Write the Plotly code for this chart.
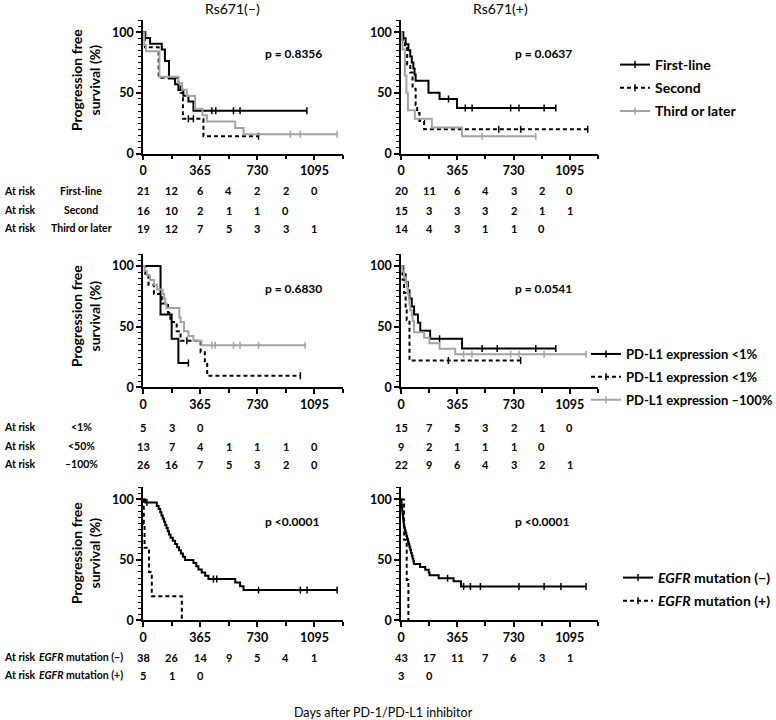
import plotly.graph_objects as go

W, H = 776, 720
FONT = "Lato"
BLACK = "#000000"
GRAY = "#a3a3a3"

# ---------------- data ----------------
risk_days = [0, 182.5, 365, 547.5, 730, 912.5, 1095]
x_max = 1277.5
col_titles = ["Rs671(\u2212)", "Rs671(+)"]
p_values = ["p = 0.8356", "p = 0.0637", "p = 0.6830", "p = 0.0541", "p <0.0001", "p <0.0001"]

# Row A : line of therapy
legend_a = ["First-line", "Second", "Third or later"]
risk_label_a = ["First-line", "Second", "Third or later"]
# Rs671(-)
a1_first_t = [0, 15, 45, 120, 140, 166, 205, 226, 258, 290, 322]
a1_first_s = [100, 95.2, 90.5, 85.7, 76.2, 61.9, 57.1, 52.4, 47.6, 42.9, 35.2]
a1_first_c = [440, 465, 578, 620, 1047]
a1_second_t = [0, 13, 100, 226, 240, 255, 386]
a1_second_s = [100, 87.5, 62.5, 56.3, 50, 28.6, 14.3]
a1_second_c = [290, 322, 738]
a1_third_t = [0, 8, 19, 105, 226, 250, 280, 333, 380, 408, 589, 642]
a1_third_s = [100, 89.5, 84.2, 63.2, 57.9, 52.6, 47.4, 36.8, 31.6, 26.3, 21.1, 15.8]
a1_third_c = [941, 1005, 1240]
a1_risk = [[21, 12, 6, 4, 2, 2, 0], [16, 10, 2, 1, 1, 0], [19, 12, 7, 5, 3, 3, 1]]
# Rs671(+)
a2_first_t = [0, 15, 30, 48, 60, 70, 80, 88, 95, 178, 250, 363]
a2_first_s = [100, 95, 90, 85, 80, 75, 70, 65, 60, 50, 45, 37.5]
a2_first_c = [308, 417, 461, 711, 765, 928, 1004]
a2_second_t = [0, 10, 25, 40, 60, 75, 95, 105, 120, 150]
a2_second_s = [100, 93.3, 86.7, 73.3, 66.7, 53.3, 40, 33.3, 26.7, 20]
a2_second_c = [634, 776, 1211]
a2_third_t = [0, 5, 10, 25, 35, 45, 90, 200, 396]
a2_third_s = [100, 92.9, 85.7, 64.3, 50, 35.7, 28.6, 21.4, 14.3]
a2_third_c = [526, 874]
a2_risk = [[20, 11, 6, 4, 3, 2, 0], [15, 3, 3, 3, 2, 1, 1], [14, 4, 3, 1, 1, 0]]

# Row B : PD-L1 expression
legend_b = ["PD-L1 expression <1%", "PD-L1 expression <1%", "PD-L1 expression \u2013100%"]
risk_label_b = ["<1%", "<50%", "\u2013100%"]
# Rs671(-)
b1_low_t = [0, 112, 183, 226]
b1_low_s = [100, 60, 40, 20]
b1_low_c = [290]
b1_mid_t = [0, 15, 35, 70, 120, 160, 175, 215, 240, 368, 395, 410]
b1_mid_s = [100, 92.3, 84.6, 76.9, 69.2, 61.5, 53.8, 46.2, 38.5, 28.9, 19.3, 9.6]
b1_mid_c = [280, 1005]
b1_high_t = [0, 10, 25, 45, 70, 90, 125, 135, 142, 150, 232, 240, 262, 290, 322, 373]
b1_high_s = [100, 96.2, 92.3, 88.5, 84.6, 80.8, 76.9, 73.1, 69.2, 65.4, 57.7, 53.8, 46.2, 42.3, 38.5, 34.6]
b1_high_c = [440, 461, 578, 620, 738, 1036]
b1_risk = [[5, 3, 0], [13, 7, 4, 1, 1, 1, 0], [26, 16, 7, 5, 3, 2, 0]]
# Rs671(+)
b2_low_t = [0, 15, 30, 45, 55, 70, 85, 110, 125, 189, 396]
b2_low_s = [100, 93.3, 86.7, 80, 73.3, 66.7, 60, 53.3, 46.7, 40, 32]
b2_low_c = [250, 526, 624, 874, 1004]
b2_mid_t = [0, 10, 20, 30, 37, 55]
b2_mid_s = [100, 88.9, 77.8, 66.7, 55.6, 22.2]
b2_mid_c = [307, 776]
b2_high_t = [0, 10, 20, 30, 40, 45, 50, 55, 60, 70, 75, 85, 150, 184, 250, 352]
b2_high_s = [100, 95.5, 90.9, 86.4, 81.8, 77.3, 72.7, 68.2, 63.6, 59.1, 54.5, 45.5, 40.9, 36.4, 31.8, 27.3]
b2_high_c = [406, 460, 711, 765, 928, 1200]
b2_risk = [[15, 7, 5, 3, 2, 1, 0], [9, 2, 1, 1, 1, 0], [22, 9, 6, 4, 3, 2, 1]]

# Row C : EGFR mutation
legend_c = ["<i>EGFR</i> mutation (\u2212)", "<i>EGFR</i> mutation (+)"]
risk_label_c = ["<i>EGFR</i> mutation (\u2212)", "<i>EGFR</i> mutation (+)"]
# Rs671(-)
c1_neg_t = [0, 15, 88, 100, 110, 118, 126, 134, 142, 150, 158, 166, 176, 190, 205, 218, 230, 242, 255, 268,
            322, 340, 354, 375, 397, 418, 589, 620, 642]
c1_neg_s = [100, 97.4, 94.7, 92.1, 89.5, 86.8, 84.2, 81.6, 78.9, 76.3, 73.7, 71.1, 68.4, 65.8, 63.2, 60.5,
            57.9, 55.3, 52.6, 50.0, 47.4, 44.7, 42.1, 39.5, 36.8, 34.2, 31.2, 28.1, 25.0]
c1_neg_c = [25, 450, 471, 738, 1005, 1048, 1240]
c1_pos_t = [0, 5, 10, 38, 56, 248]
c1_pos_s = [100, 80, 60, 40, 20, 0]
c1_pos_c = []
c1_risk = [[38, 26, 14, 9, 5, 4, 1], [5, 1, 0]]
# Rs671(+)
c2_neg_t = [0, 2, 4, 6, 8, 10, 12, 14, 16, 18, 21, 25, 30, 35, 40, 45, 50, 55, 60, 65,
            70, 75, 80, 84, 124, 157, 180, 185, 244, 341, 389]
c2_neg_s = [100, 97.7, 95.3, 93.0, 90.7, 88.4, 86.0, 83.7, 81.4, 79.1, 76.7, 74.4, 72.1, 69.8, 67.4, 65.1,
            62.8, 60.5, 58.1, 55.8, 53.5, 51.2, 48.8, 46.5, 44.2, 41.9, 39.5, 37.2, 34.9, 32.3, 28.0]
c2_neg_c = [302, 406, 450, 515, 765, 928, 1037, 1200]
c2_pos_t = [0, 20, 37, 48]
c2_pos_s = [100, 66.7, 33.3, 0]
c2_pos_c = []
c2_risk = [[43, 17, 11, 7, 6, 3, 1], [3, 0]]

# ---------------- layout geometry (pixels) ----------------
LEFT_X = (143, 343)
RIGHT_X = (401, 598)
ROW_Y = [(20, 153.5), (254, 387.3), (487.4, 620.3)]       # (top, bottom) of each plot row
RISK_Y = [[191, 210, 228], [427, 446, 464], [657, 675]]
YTITLE_Y = [80, 316, 553]
LEGEND_X = [615, 586, 618]
LEGEND_TOP = [49, 339, 562]
LEGEND_SIZE = [14, 13, 14]

STYLES = [dict(color=BLACK, dash="solid"), dict(color=BLACK, dash="4px,3px"), dict(color=GRAY, dash="solid")]


def fx(p):
    return p / W


def fy(p):
    return 1 - p / H


def step_at(ts, ss, t):
    v = ss[0]
    for ti, si in zip(ts, ss):
        if ti <= t:
            v = si
    return v


panels = [
    dict(curves=[(a1_first_t, a1_first_s, a1_first_c), (a1_second_t, a1_second_s, a1_second_c),
                 (a1_third_t, a1_third_s, a1_third_c)], risk=a1_risk),
    dict(curves=[(a2_first_t, a2_first_s, a2_first_c), (a2_second_t, a2_second_s, a2_second_c),
                 (a2_third_t, a2_third_s, a2_third_c)], risk=a2_risk),
    dict(curves=[(b1_low_t, b1_low_s, b1_low_c), (b1_mid_t, b1_mid_s, b1_mid_c),
                 (b1_high_t, b1_high_s, b1_high_c)], risk=b1_risk),
    dict(curves=[(b2_low_t, b2_low_s, b2_low_c), (b2_mid_t, b2_mid_s, b2_mid_c),
                 (b2_high_t, b2_high_s, b2_high_c)], risk=b2_risk),
    dict(curves=[(c1_neg_t, c1_neg_s, c1_neg_c), (c1_pos_t, c1_pos_s, c1_pos_c)], risk=c1_risk),
    dict(curves=[(c2_neg_t, c2_neg_s, c2_neg_c), (c2_pos_t, c2_pos_s, c2_pos_c)], risk=c2_risk),
]
legend_names = [legend_a, legend_b, legend_c]
risk_labels = [risk_label_a, risk_label_b, risk_label_c]

fig = go.Figure()
annotations = []
layout_axes = {}
bold = "bold"
risk_font = dict(family=FONT, size=11, color=BLACK, weight=bold)
label_font = dict(family=FONT, size=10.5, color=BLACK, weight=bold)

for k, panel in enumerate(panels):
    row, col = k // 2, k % 2
    n = k + 1
    xa = "x" if n == 1 else f"x{n}"
    ya = "y" if n == 1 else f"y{n}"
    xdom = LEFT_X if col == 0 else RIGHT_X
    top, bot = ROW_Y[row]
    axis_font = dict(family=FONT, size=12.5, color=BLACK, weight=bold)
    layout_axes["xaxis" if n == 1 else f"xaxis{n}"] = dict(
        domain=[fx(xdom[0]), fx(xdom[1])], range=[0, x_max], anchor=ya,
        tickmode="linear", tick0=0, dtick=365, ticks="outside", ticklen=5, tickwidth=1.5,
        tickcolor=BLACK, showline=True, linecolor=BLACK, linewidth=1.5, showgrid=False,
        zeroline=False, tickfont=axis_font, fixedrange=True,
        minor=dict(tick0=0, dtick=182.5, ticks="outside", ticklen=4, tickwidth=1.5,
                   tickcolor=BLACK, showgrid=False))
    layout_axes["yaxis" if n == 1 else f"yaxis{n}"] = dict(
        domain=[fy(bot), fy(top)], range=[0, 110], anchor=xa,
        tickmode="linear", tick0=0, dtick=50, ticks="outside", ticklen=5, tickwidth=1.5,
        tickcolor=BLACK, showline=True, linecolor=BLACK, linewidth=1.5, showgrid=False,
        zeroline=False, tickfont=axis_font, fixedrange=True,
        minor=dict(tick0=0, dtick=5, ticks="outside", ticklen=3, tickwidth=1.2,
                   tickcolor=BLACK, showgrid=False))

    for i, (ts, ss, cs) in enumerate(panel["curves"]):
        st = STYLES[i]
        end = max([ts[-1]] + list(cs))
        fig.add_trace(go.Scatter(
            x=list(ts) + [end], y=list(ss) + [ss[-1]], mode="lines", line_shape="hv",
            line=dict(color=st["color"], width=2, dash=st["dash"]),
            xaxis=xa, yaxis=ya, showlegend=False, hoverinfo="skip"))
        if cs:
            fig.add_trace(go.Scatter(
                x=cs, y=[step_at(ts, ss, c) for c in cs], mode="markers",
                marker=dict(symbol="line-ns", size=5, line=dict(width=1.5, color=st["color"])),
                xaxis=xa, yaxis=ya, showlegend=False, hoverinfo="skip"))
        if col == 1:
            lg = "legend" if row == 0 else f"legend{row + 1}"
            fig.add_trace(go.Scatter(
                x=[None], y=[None], mode="lines+markers", name=legend_names[row][i],
                line=dict(color=st["color"], width=2, dash=st["dash"]),
                marker=dict(symbol="line-ns", size=5, line=dict(width=1.5, color=st["color"])),
                xaxis=xa, yaxis=ya, legend=lg, legendgroup=f"g{row}{i}", showlegend=True))

    # p value
    annotations.append(dict(text=p_values[k], x=fx(263 if col == 0 else 513), y=fy(top + 34),
                            xref="paper", yref="paper", xanchor="left", yanchor="middle",
                            showarrow=False, font=dict(family=FONT, size=12, color=BLACK, weight=bold)))
    # numbers at risk
    for r, counts in enumerate(panel["risk"]):
        for d, c in zip(risk_days, counts):
            annotations.append(dict(text=str(c), x=d, xref=xa, y=fy(RISK_Y[row][r]), yref="paper",
                                    xanchor="center", yanchor="middle", showarrow=False, font=risk_font))
        if col == 0:
            annotations.append(dict(text="At risk", x=fx(2), y=fy(RISK_Y[row][r]), xref="paper",
                                    yref="paper", xanchor="left", yanchor="middle", showarrow=False,
                                    font=label_font))
            annotations.append(dict(text=risk_labels[row][r], x=fx(81), y=fy(RISK_Y[row][r]),
                                    xref="paper", yref="paper", xanchor="center", yanchor="middle",
                                    showarrow=False, font=label_font))
    if col == 0:
        annotations.append(dict(text="Progression free<br>survival (%)", x=fx(85), y=fy(YTITLE_Y[row]),
                                xref="paper", yref="paper", xanchor="center", yanchor="middle",
                                textangle=-90, showarrow=False,
                                font=dict(family=FONT, size=14, color=BLACK, weight=bold)))

for j, t in enumerate(col_titles):
    annotations.append(dict(text=t, x=fx(232 if j == 0 else 500), y=fy(9), xref="paper", yref="paper",
                            xanchor="center", yanchor="middle", showarrow=False,
                            font=dict(family=FONT, size=14, color=BLACK)))
annotations.append(dict(text="Days after PD-1/PD-L1 inhibitor", x=fx(383), y=fy(712), xref="paper",
                        yref="paper", xanchor="center", yanchor="middle", showarrow=False,
                        font=dict(family=FONT, size=12.5, color=BLACK)))


def legend_style(i):
    return dict(x=fx(LEGEND_X[i]), y=fy(LEGEND_TOP[i]), xanchor="left", yanchor="top",
                bgcolor="rgba(0,0,0,0)", borderwidth=0,
                font=dict(family=FONT, size=LEGEND_SIZE[i], color=BLACK, weight=bold),
                tracegroupgap=2 if LEGEND_SIZE[i] >= 14 else 3, itemwidth=30)


fig.update_layout(
    width=W, height=H, margin=dict(l=0, r=0, t=0, b=0, autoexpand=False),
    paper_bgcolor="white", plot_bgcolor="white",
    annotations=annotations,
    legend=legend_style(0),
    legend2=legend_style(1),
    legend3=legend_style(2),
    **layout_axes,
)

fig.write_html("out.html", config={"displayModeBar": False},
               post_script="document.body.style.margin='0px';document.body.style.overflow='hidden';")
